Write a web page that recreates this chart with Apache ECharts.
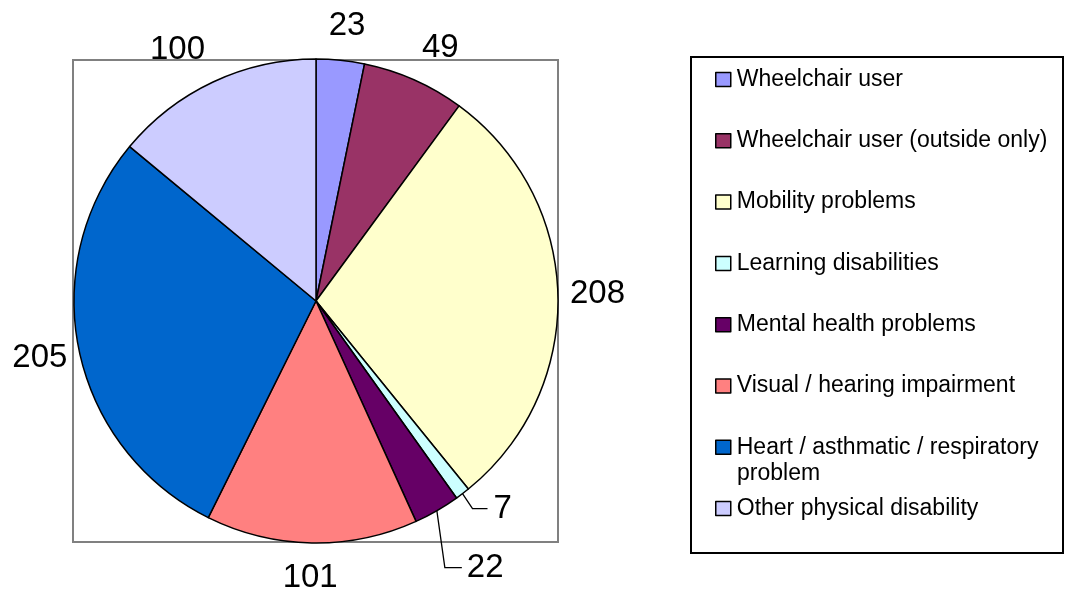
<!DOCTYPE html>
<html>
<head>
<meta charset="utf-8">
<script src="https://cdn.jsdelivr.net/npm/echarts@6/dist/echarts.min.js"></script>
<style>
html,body{margin:0;padding:0;background:#fff;}
#c{width:1067px;height:591px;}
</style>
</head>
<body>
<div id="c"></div>
<script>
const categories = ['Wheelchair user', 'Wheelchair user (outside only)', 'Mobility problems', 'Learning disabilities', 'Mental health problems', 'Visual / hearing impairment', 'Heart / asthmatic / respiratory problem', 'Other physical disability'];
const values = [23, 49, 208, 7, 22, 101, 205, 100];
const colors = ['#9999FF', '#993366', '#FFFFCC', '#CCFFFF', '#660066', '#FF8080', '#0066CC', '#CCCCFF'];
const legendFirstLine = {'Heart / asthmatic / respiratory problem': 'Heart / asthmatic / respiratory'};
const legendSecondLine = 'problem';

const CX = 316, CY = 301, R = 242;
const FONT = 'Liberation Sans, Arial, sans-serif';
const chart = echarts.init(document.getElementById('c'), null, {renderer: 'canvas'});

const data = categories.map((name, i) => {
  const item = {name: name, value: values[i], itemStyle: {color: colors[i]}};
  if (i === 3 || i === 4) {
    item.labelLine = {lineStyle: {color: '#000', opacity: 1, width: 1.3}};
  }
  return item;
});

function clamp(v) { return Math.max(-1, Math.min(1, v)); }

chart.setOption({
  animation: false,
  backgroundColor: '#fff',
  graphic: [
    {type: 'rect', z: -10, shape: {x: 73, y: 60, width: 485, height: 482}, style: {fill: '#fff', stroke: '#808080', lineWidth: 2}},
    {type: 'rect', z: -10, shape: {x: 691, y: 57, width: 372, height: 496}, style: {fill: '#fff', stroke: '#000', lineWidth: 2}},
    {type: 'text', z: 10, left: 737, top: 462, style: {text: legendSecondLine, font: '23px ' + FONT, fill: '#000'}}
  ],
  legend: {
    orient: 'vertical',
    left: 715,
    top: 68,
    padding: 0,
    itemGap: 38.3,
    itemWidth: 15,
    itemHeight: 14,
    icon: 'rect',
    data: categories,
    itemStyle: {borderColor: '#000', borderWidth: 1.5},
    formatter: function (n) { return legendFirstLine[n] || n; },
    textStyle: {fontFamily: FONT, fontSize: 23, lineHeight: 23, color: '#000', padding: [0, 0, 0, 1]}
  },
  series: [{
    type: 'pie',
    center: [CX, CY],
    radius: R,
    startAngle: 90,
    clockwise: true,
    avoidLabelOverlap: false,
    data: data,
    itemStyle: {borderColor: '#000', borderWidth: 1.5},
    emphasis: {disabled: true},
    label: {show: true, position: 'outside', formatter: '{c}', fontFamily: FONT, fontSize: 33, color: '#000'},
    labelLine: {show: true, length: 20, length2: 10, lineStyle: {opacity: 0}},
    labelLayout: function (p) {
      const pts = p.labelLinePoints;
      if (!pts) return {};
      const p0 = [pts[0][0], pts[0][1]];
      const i = p.dataIndex;
      if (i === 3) {
        return {x: p0[0] + 31, y: p0[1] + 15, align: 'left', verticalAlign: 'middle',
          labelLinePoints: [p0, [p0[0] + 10, p0[1] + 15], [p0[0] + 25, p0[1] + 15]]};
      }
      if (i === 4) {
        return {x: p0[0] + 30, y: p0[1] + 57, align: 'left', verticalAlign: 'middle',
          labelLinePoints: [p0, [p0[0] + 8, p0[1] + 57], [p0[0] + 25, p0[1] + 57]]};
      }
      let dx = p0[0] - CX, dy = p0[1] - CY;
      const len = Math.hypot(dx, dy) || 1;
      dx /= len; dy /= len;
      const w = p.labelRect.width + 10, h = 56;
      const ax = CX + dx * (R + 7), ay = CY + dy * (R + 7);
      const fx = clamp(dx * 2.5), fy = dy;
      return {x: ax + fx * w / 2, y: ay + fy * h / 2, align: 'center', verticalAlign: 'middle'};
    }
  }]
});
</script>
</body>
</html>
